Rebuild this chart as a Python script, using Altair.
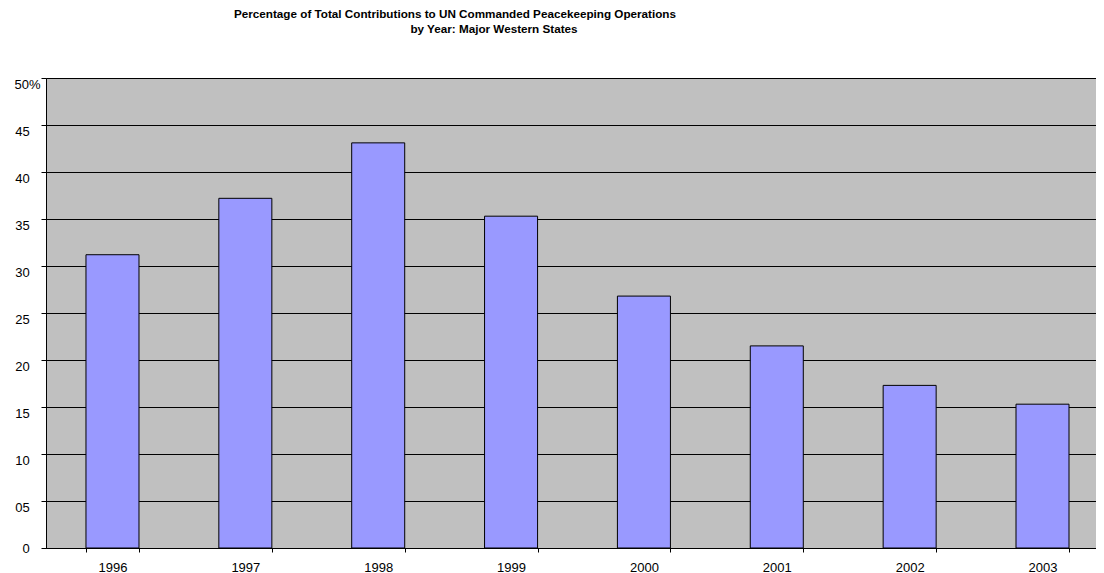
import altair as alt
import pandas as pd

years = ["1996", "1997", "1998", "1999", "2000", "2001", "2002", "2003"]
values = [31.2, 37.2, 43.1, 35.3, 26.8, 21.5, 17.3, 15.3]
y_ticks = [0, 5, 10, 15, 20, 25, 30, 35, 40, 45, 50]

df = pd.DataFrame({"year": years, "pct": values})

nb = "\u00a0"
title_lines = [
    "Percentage of Total Contributions to UN Commanded Peacekeeping Operations",
    "\u200b" + nb * 24 + "by Year: Major Western States",
]

pad = "'" + nb * 3 + "\u200b'"
label_expr = (
    "datum.value == 50 ? '50%' : "
    "(datum.value == 0 ? '0' : (datum.value < 10 ? '0' + datum.value : '' + datum.value)) + " + pad
)

chart = (
    alt.Chart(df)
    .mark_bar(color="#9999FF", stroke="#000000", strokeWidth=1)
    .encode(
        x=alt.X(
            "year:N",
            title=None,
            sort=years,
            scale=alt.Scale(paddingInner=0.601, paddingOuter=0.252, align=0.597),
            axis=alt.Axis(
                labelAngle=0,
                tickBand="extent",
                tickSize=4,
                labelPadding=9,
                domainColor="#000000",
                tickColor="#000000",
                grid=False,
            ),
        ),
        y=alt.Y(
            "pct:Q",
            title=None,
            scale=alt.Scale(domain=[0, 50], nice=False),
            axis=alt.Axis(
                values=y_ticks,
                labelExpr=label_expr,
                tickSize=5,
                labelPadding=1,
                labelBaseline="middle",
                labelOffset={"condition": {"test": "datum.value == 0", "value": 0}, "value": 6},
                grid=True,
                gridColor="#000000",
                gridOpacity=1,
                gridWidth=1,
                domainColor="#000000",
                tickColor="#000000",
            ),
        ),
    )
    .properties(
        width=1050,
        height=470,
        background="white",
        autosize=alt.AutoSizeParams(type="none"),
        padding={"left": 38, "top": 70, "right": 0, "bottom": 30},
        title=alt.TitleParams(
            text=title_lines,
            anchor="middle",
            dx=-116,
            offset=42,
            font="Liberation Sans",
            fontSize=11.7,
            fontWeight="bold",
            color="#000000",
            lineHeight=15,
        ),
    )
    .configure_view(fill="#C0C0C0", stroke="#808080", strokeWidth=1)
    .configure_axis(
        labelFont="Liberation Sans",
        labelFontSize=13,
        labelColor="#000000",
    )
)

chart.save("out.html", embed_options={"renderer": "svg", "actions": False})
